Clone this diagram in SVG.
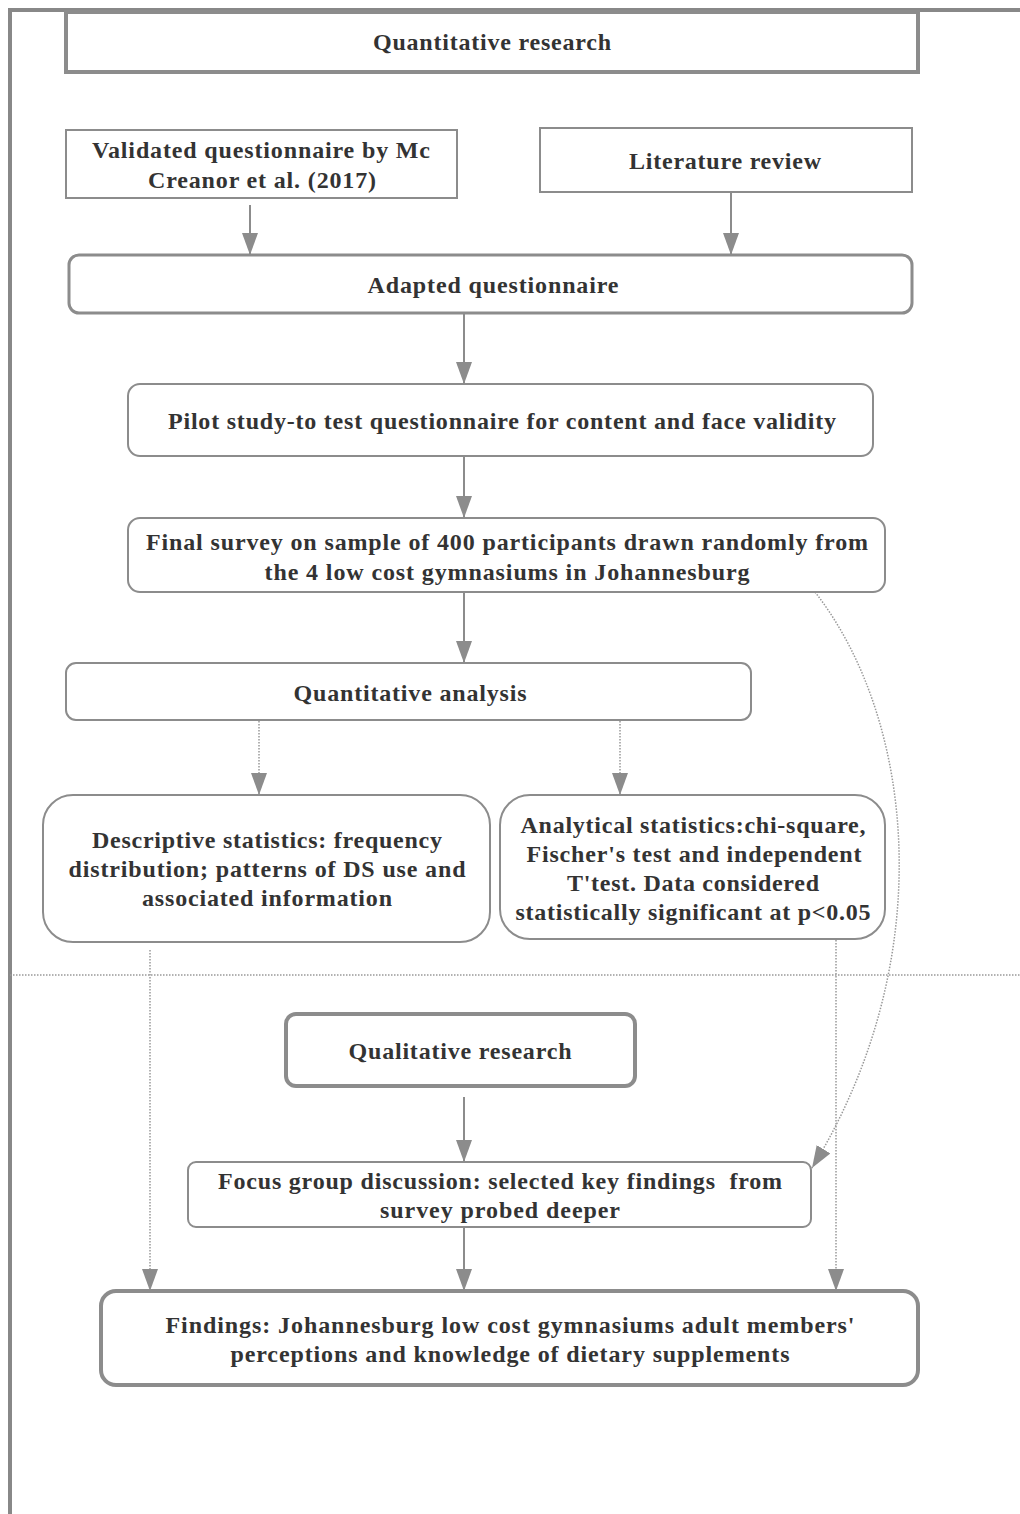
<svg xmlns="http://www.w3.org/2000/svg" width="1020" height="1514" viewBox="0 0 1020 1514">
  <style>
    .lbl { font-family: "Liberation Serif", "Times New Roman", serif; font-weight: bold; font-size: 24px; fill: #333; text-anchor: middle; }
    .box { fill: #fff; stroke: #8c8c8c; }
    .solid { stroke: #8c8c8c; stroke-width: 2; fill: none; }
    .dot { stroke: #999; stroke-width: 1.5; stroke-dasharray: 1.5 1.5; fill: none; }
  </style>
  <defs>
    <marker id="arr" markerUnits="userSpaceOnUse" markerWidth="22" markerHeight="16" viewBox="0 0 22 16" refX="22" refY="8" orient="auto">
      <path d="M0,0 L22,8 L0,16 Z" fill="#8c8c8c"/>
    </marker>
  </defs>
  <rect width="1020" height="1514" fill="#fff"/>

  <!-- outer frame and section divider -->
  <g id="frame">
    <path d="M10,1514 V10 H1020" fill="none" stroke="#888" stroke-width="4"/>
    <line x1="10" y1="975" x2="1020" y2="975" class="dot"/>
  </g>

  <!-- connectors -->
  <g id="connectors">
    <line x1="250" y1="205" x2="250" y2="255" class="solid" marker-end="url(#arr)"/>
    <line x1="731" y1="193" x2="731" y2="255" class="solid" marker-end="url(#arr)"/>
    <line x1="464" y1="314" x2="464" y2="384" class="solid" marker-end="url(#arr)"/>
    <line x1="464" y1="457" x2="464" y2="518" class="solid" marker-end="url(#arr)"/>
    <line x1="464" y1="592" x2="464" y2="663" class="solid" marker-end="url(#arr)"/>
    <line x1="259" y1="721" x2="259" y2="795" class="dot" marker-end="url(#arr)"/>
    <line x1="620" y1="721" x2="620" y2="795" class="dot" marker-end="url(#arr)"/>
    <line x1="150" y1="950" x2="150" y2="1291" class="dot" marker-end="url(#arr)"/>
    <line x1="836" y1="940" x2="836" y2="1291" class="dot" marker-end="url(#arr)"/>
    <path d="M815,592 C915,720 940,960 812,1168" class="dot" marker-end="url(#arr)"/>
    <line x1="464" y1="1097" x2="464" y2="1162" class="solid" marker-end="url(#arr)"/>
    <line x1="464" y1="1228" x2="464" y2="1291" class="solid" marker-end="url(#arr)"/>
  </g>

  <g id="n-quant">
    <rect x="66" y="12" width="852" height="60" class="box" stroke-width="4"/>
    <text x="492" y="50" class="lbl" textLength="238">Quantitative research</text>
  </g>

  <g id="n-validated">
    <rect x="66" y="130" width="391" height="68" class="box" stroke-width="2"/>
    <text x="261" y="158" class="lbl" textLength="338">Validated questionnaire by Mc</text>
    <text x="262" y="188" class="lbl" textLength="228">Creanor et al. (2017)</text>
  </g>

  <g id="n-literature">
    <rect x="540" y="128" width="372" height="64" class="box" stroke-width="2"/>
    <text x="725" y="169" class="lbl" textLength="192">Literature review</text>
  </g>

  <g id="n-adapted">
    <rect x="69" y="255" width="843" height="58" rx="10" class="box" stroke-width="3"/>
    <text x="493" y="293" class="lbl" textLength="251">Adapted questionnaire</text>
  </g>

  <g id="n-pilot">
    <rect x="128" y="384" width="745" height="72" rx="12" class="box" stroke-width="2"/>
    <text x="502" y="429" class="lbl" textLength="668">Pilot study-to test questionnaire for content and face validity</text>
  </g>

  <g id="n-survey">
    <rect x="128" y="518" width="757" height="74" rx="12" class="box" stroke-width="2"/>
    <text x="507" y="550" class="lbl" textLength="722">Final survey on sample of 400 participants drawn randomly from</text>
    <text x="507" y="580" class="lbl" textLength="485">the 4 low cost gymnasiums in Johannesburg</text>
  </g>

  <g id="n-analysis">
    <rect x="66" y="663" width="685" height="57" rx="10" class="box" stroke-width="2"/>
    <text x="410" y="701" class="lbl" textLength="233">Quantitative analysis</text>
  </g>

  <g id="n-descriptive">
    <rect x="43" y="795" width="447" height="147" rx="30" class="box" stroke-width="2"/>
    <text x="267" y="848" class="lbl" textLength="350">Descriptive statistics: frequency</text>
    <text x="267" y="877" class="lbl" textLength="397">distribution; patterns of DS use and</text>
    <text x="267" y="906" class="lbl" textLength="250">associated information</text>
  </g>

  <g id="n-analytical">
    <rect x="500" y="795" width="385" height="144" rx="30" class="box" stroke-width="2"/>
    <text x="693" y="833" class="lbl" textLength="345">Analytical statistics:chi-square,</text>
    <text x="694" y="862" class="lbl" textLength="335">Fischer's test and independent</text>
    <text x="693" y="891" class="lbl" textLength="252">T'test. Data considered</text>
    <text x="693" y="920" class="lbl" textLength="355">statistically significant at p&lt;0.05</text>
  </g>

  <g id="n-qual">
    <rect x="286" y="1014" width="349" height="72" rx="10" class="box" stroke-width="4"/>
    <text x="460" y="1059" class="lbl" textLength="223">Qualitative research</text>
  </g>

  <g id="n-focus">
    <rect x="188" y="1162" width="623" height="65" rx="8" class="box" stroke-width="2"/>
    <text x="500" y="1189" class="lbl" textLength="564" xml:space="preserve">Focus group discussion: selected key findings  from</text>
    <text x="500" y="1218" class="lbl" textLength="240">survey probed deeper</text>
  </g>

  <g id="n-findings">
    <rect x="101" y="1291" width="817" height="94" rx="15" class="box" stroke-width="4"/>
    <text x="510" y="1333" class="lbl" textLength="689">Findings: Johannesburg low cost gymnasiums adult members'</text>
    <text x="510" y="1362" class="lbl" textLength="559">perceptions and knowledge of dietary supplements</text>
  </g>
</svg>
